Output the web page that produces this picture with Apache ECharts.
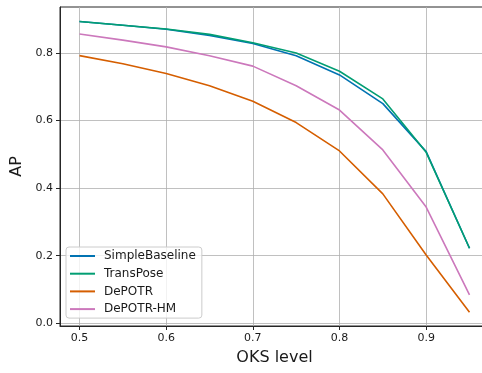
<!DOCTYPE html>
<html>
<head>
<meta charset="utf-8">
<script src="https://cdn.jsdelivr.net/npm/echarts@6/dist/echarts.min.js"></script>
<style>
html,body{margin:0;padding:0;background:#fff;}
#chart{width:482px;height:373px;}
</style>
</head>
<body>
<div id="chart"></div>
<script>
const oksLevels = [0.5, 0.55, 0.6, 0.65, 0.7, 0.75, 0.8, 0.85, 0.9, 0.95];
const simpleBaseline = [0.893, 0.882, 0.870, 0.852, 0.828, 0.792, 0.735, 0.650, 0.508, 0.222];
const transPose = [0.893, 0.882, 0.871, 0.855, 0.830, 0.800, 0.746, 0.664, 0.506, 0.222];
const dePOTR = [0.792, 0.768, 0.739, 0.703, 0.657, 0.594, 0.510, 0.383, 0.202, 0.033];
const dePOTRHM = [0.856, 0.838, 0.818, 0.792, 0.761, 0.703, 0.631, 0.513, 0.344, 0.084];
const xTicks = [0.5, 0.6, 0.7, 0.8, 0.9];
const yTicks = [0.0, 0.2, 0.4, 0.6, 0.8];

const seriesDefs = [
  {name: 'SimpleBaseline', values: simpleBaseline, color: '#0173b2'},
  {name: 'TransPose', values: transPose, color: '#029e73'},
  {name: 'DePOTR', values: dePOTR, color: '#d55e00'},
  {name: 'DePOTR-HM', values: dePOTRHM, color: '#cc78bc'}
];

const font = 'DejaVu Sans';
const chart = echarts.init(document.getElementById('chart'), null, {renderer: 'canvas'});
chart.setOption({
  animation: false,
  textStyle: {fontFamily: font},
  grid: {left: 60, top: 7, width: 429, height: 319, show: true, borderColor: '#262626', borderWidth: 1,
    containLabel: false, outerBoundsMode: 'none'},
  xAxis: {
    type: 'value', min: 0.4775, max: 0.9725,
    name: 'OKS level', nameLocation: 'middle', nameGap: 24,
    nameTextStyle: {fontSize: 16, color: '#1a1a1a', fontFamily: font},
    axisLine: {show: true, onZero: false, lineStyle: {color: '#262626', width: 1}},
    axisTick: {show: true, inside: false, length: 4, customValues: xTicks, lineStyle: {color: '#262626'}},
    axisLabel: {customValues: xTicks, fontSize: 11, color: '#1a1a1a', margin: 7, fontFamily: font,
      formatter: v => v.toFixed(1)},
    splitLine: {show: true, lineStyle: {color: '#b0b0b0', width: 0.8}}
  },
  yAxis: {
    type: 'value', min: -0.008, max: 0.936,
    name: 'AP', nameLocation: 'middle', nameGap: 31,
    nameTextStyle: {fontSize: 16, color: '#1a1a1a', fontFamily: font},
    axisLine: {show: true, onZero: false, lineStyle: {color: '#262626', width: 1}},
    axisTick: {show: true, inside: false, length: 4, customValues: yTicks, lineStyle: {color: '#262626'}},
    axisLabel: {customValues: yTicks, fontSize: 11, color: '#1a1a1a', margin: 7, fontFamily: font,
      formatter: v => v.toFixed(1)},
    splitLine: {show: true, lineStyle: {color: '#b0b0b0', width: 0.8}}
  },
  legend: {
    orient: 'vertical', left: 66, top: 247,
    icon: 'rect', itemWidth: 25, itemHeight: 2, itemGap: 3.7,
    padding: [2, 6, 2, 4],
    backgroundColor: 'rgba(255,255,255,0.8)', borderColor: '#cccccc', borderWidth: 1, borderRadius: 3,
    textStyle: {fontSize: 12, color: '#1a1a1a', fontFamily: font, lineHeight: 14, padding: [0, 0, 0, 4]},
    data: seriesDefs.map(s => s.name)
  },
  series: seriesDefs.map(s => ({
    name: s.name, type: 'line', symbol: 'none', color: s.color,
    lineStyle: {width: 1.6, color: s.color},
    data: oksLevels.map((x, i) => [x, s.values[i]])
  }))
});
</script>
</body>
</html>
